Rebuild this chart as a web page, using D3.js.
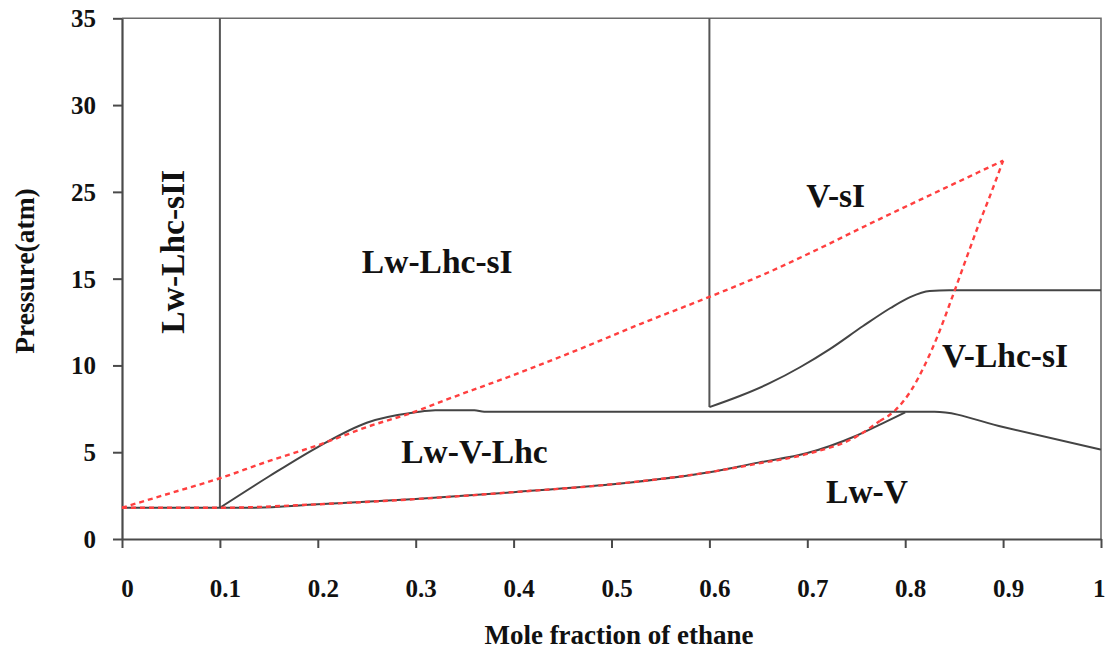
<!DOCTYPE html>
<html>
<head>
<meta charset="utf-8">
<script src="https://cdn.jsdelivr.net/npm/d3@7/dist/d3.min.js"></script>
<style>
  html, body { margin: 0; padding: 0; background: #fff; }
  svg { display: block; }
  text { font-family: "Liberation Serif", "Times New Roman", serif; font-weight: bold; fill: #111; }
</style>
</head>
<body>
<svg id="chart" width="1105" height="650"></svg>
<script>
// ---------------- data ----------------
const xTickValues = [0, 0.1, 0.2, 0.3, 0.4, 0.5, 0.6, 0.7, 0.8, 0.9, 1];
const xTickLabels = ["0", "0.1", "0.2", "0.3", "0.4", "0.5", "0.6", "0.7", "0.8", "0.9", "1"];
const yTickValues = [0, 5, 10, 15, 25, 30, 35];
const yTickLabels = ["0", "5", "10", "15", "25", "30", "35"];

const xTitle = "Mole fraction of ethane";
const yTitle = "Pressure(atm)";

// black solid boundaries: [mole fraction, pressure]
const boundarySII = [[0.1, 1.8], [0.1, 35]];
const boundarySIright = [[0.6, 7.6], [0.6, 35]];
const lowerBlack = [[0, 1.8], [0.1, 1.8], [0.13, 1.8], [0.2, 2.0], [0.3, 2.3], [0.4, 2.7], [0.5, 3.15],
                    [0.6, 3.85], [0.65, 4.4], [0.7, 4.95], [0.75, 5.95], [0.78, 6.75], [0.8, 7.3]];
const threePhaseBlack = [[0.1, 1.8], [0.15, 3.6], [0.2, 5.3], [0.25, 6.7], [0.3, 7.3], [0.32, 7.42],
                         [0.36, 7.42], [0.37, 7.33], [0.83, 7.33], [0.9, 6.45], [1.0, 5.15]];
const upperRightBlack = [[0.6, 7.6], [0.631, 8.24], [0.662, 8.99], [0.693, 9.91], [0.723, 10.94],
                         [0.757, 12.27], [0.785, 13.31], [0.805, 13.94], [0.825, 14.29],
                         [0.845, 14.33], [1.0, 14.33]];

// red dashed predicted envelope
const redUpper = [[0, 1.8], [0.05, 2.65], [0.1, 3.5], [0.148, 4.45], [0.2, 5.4],
                  [0.25, 6.45], [0.3, 7.35], [0.33, 8.0], [0.4, 9.45], [0.47, 11.0], [0.53, 12.4],
                  [0.6, 13.95], [0.66, 15.71], [0.706, 18.13], [0.771, 21.71],
                  [0.815, 24.07], [0.9, 26.8]];
const redRight = [[0.774, 6.8], [0.79, 7.43], [0.805, 8.47], [0.82, 10.02], [0.8335, 11.75],
                  [0.847, 13.77], [0.86, 16.58], [0.873, 20.61], [0.887, 24.65], [0.9, 26.8]];
const redLower = [[0, 1.8], [0.1, 1.8], [0.2, 2.0], [0.3, 2.3], [0.4, 2.7], [0.5, 3.15],
                  [0.6, 3.85], [0.65, 4.35], [0.7, 4.9], [0.75, 5.9], [0.774, 6.8]];

// region labels
const regionNames = ["Lw-Lhc-sII", "Lw-Lhc-sI", "V-sI", "V-Lhc-sI", "Lw-V-Lhc", "Lw-V"];
const regionX = [0.063, 0.322, 0.729, 0.902, 0.36, 0.761];
const regionP = [18.1, 15.66, 23.26, 9.91, 4.38, 2.07];
const regionRotated = [true, false, false, false, false, false];

// ---------------- layout ----------------
const svg = d3.select("#chart");
const plotLeft = 122, plotRight = 1101, plotTop = 18.3, plotBottom = 539;

const x = d3.scaleLinear().domain([0, 1]).range([plotLeft, plotRight]);
const y = d3.scaleLinear()
  .domain(yTickValues)
  .range(yTickValues.map((d, i) => plotBottom - i * (plotBottom - plotTop) / (yTickValues.length - 1)));

// frame (top and right)
svg.append("path")
  .attr("d", `M${x(0)},${y(35)}H${x(1)}V${y(0)}`)
  .attr("fill", "none").attr("stroke", "#6b6b6b").attr("stroke-width", 1.6);

// axes
const xAxis = svg.append("g").attr("transform", `translate(0,${y(0)})`)
  .call(d3.axisBottom(x).tickValues(xTickValues).tickFormat((d, i) => xTickLabels[i])
        .tickSizeOuter(0).tickSizeInner(9));
xAxis.select(".domain").attr("stroke", "#4a4a4a").attr("stroke-width", 2.2);
xAxis.selectAll(".tick line").attr("stroke", "#4a4a4a").attr("stroke-width", 2);
xAxis.selectAll(".tick text").attr("dy", null).attr("y", 58).attr("dx", 5)
  .style("font-size", "25px").attr("fill", "#111");
xAxis.selectAll(".tick text").filter((d, i, n) => i === n.length - 1)
  .attr("text-anchor", "end").attr("dx", 4);

const yAxis = svg.append("g").attr("transform", `translate(${x(0)},0)`)
  .call(d3.axisLeft(y).tickValues(yTickValues).tickFormat((d, i) => yTickLabels[i])
        .tickSizeOuter(0).tickSizeInner(9));
yAxis.select(".domain").attr("stroke", "#4a4a4a").attr("stroke-width", 2.2);
yAxis.selectAll(".tick line").attr("stroke", "#4a4a4a").attr("stroke-width", 2);
yAxis.selectAll(".tick text").attr("x", -26).attr("dy", "0.34em")
  .style("font-size", "25px").attr("fill", "#111");

// axis titles
svg.append("text").attr("x", 619).attr("y", 644).attr("text-anchor", "middle")
  .style("font-size", "27px").text(xTitle);
svg.append("text").attr("transform", `translate(34,271) rotate(-90)`)
  .attr("text-anchor", "middle").style("font-size", "27.5px").text(yTitle);

// lines
const smooth = d3.line().x(d => x(d[0])).y(d => y(d[1])).curve(d3.curveMonotoneX);
const straight = d3.line().x(d => x(d[0])).y(d => y(d[1]));

[boundarySII, boundarySIright].forEach(seg => {
  svg.append("path").attr("d", straight(seg)).attr("fill", "none")
    .attr("stroke", "#555").attr("stroke-width", 2);
});
[lowerBlack, threePhaseBlack, upperRightBlack].forEach(seg => {
  svg.append("path").attr("d", smooth(seg)).attr("fill", "none")
    .attr("stroke", "#444").attr("stroke-width", 2);
});
[redUpper, redRight, redLower].forEach(seg => {
  svg.append("path").attr("d", smooth(seg)).attr("fill", "none")
    .attr("stroke", "#ff3f3f").attr("stroke-width", 2.4)
    .attr("stroke-dasharray", "5,4");
});

// region labels
regionNames.forEach((name, i) => {
  const t = svg.append("text").style("font-size", "33.5px").attr("text-anchor", "middle").text(name);
  if (regionRotated[i]) {
    t.attr("transform", `translate(${x(regionX[i])},${y(regionP[i])}) rotate(-90)`);
  } else {
    t.attr("x", x(regionX[i])).attr("y", y(regionP[i]));
  }
});
</script>
</body>
</html>
